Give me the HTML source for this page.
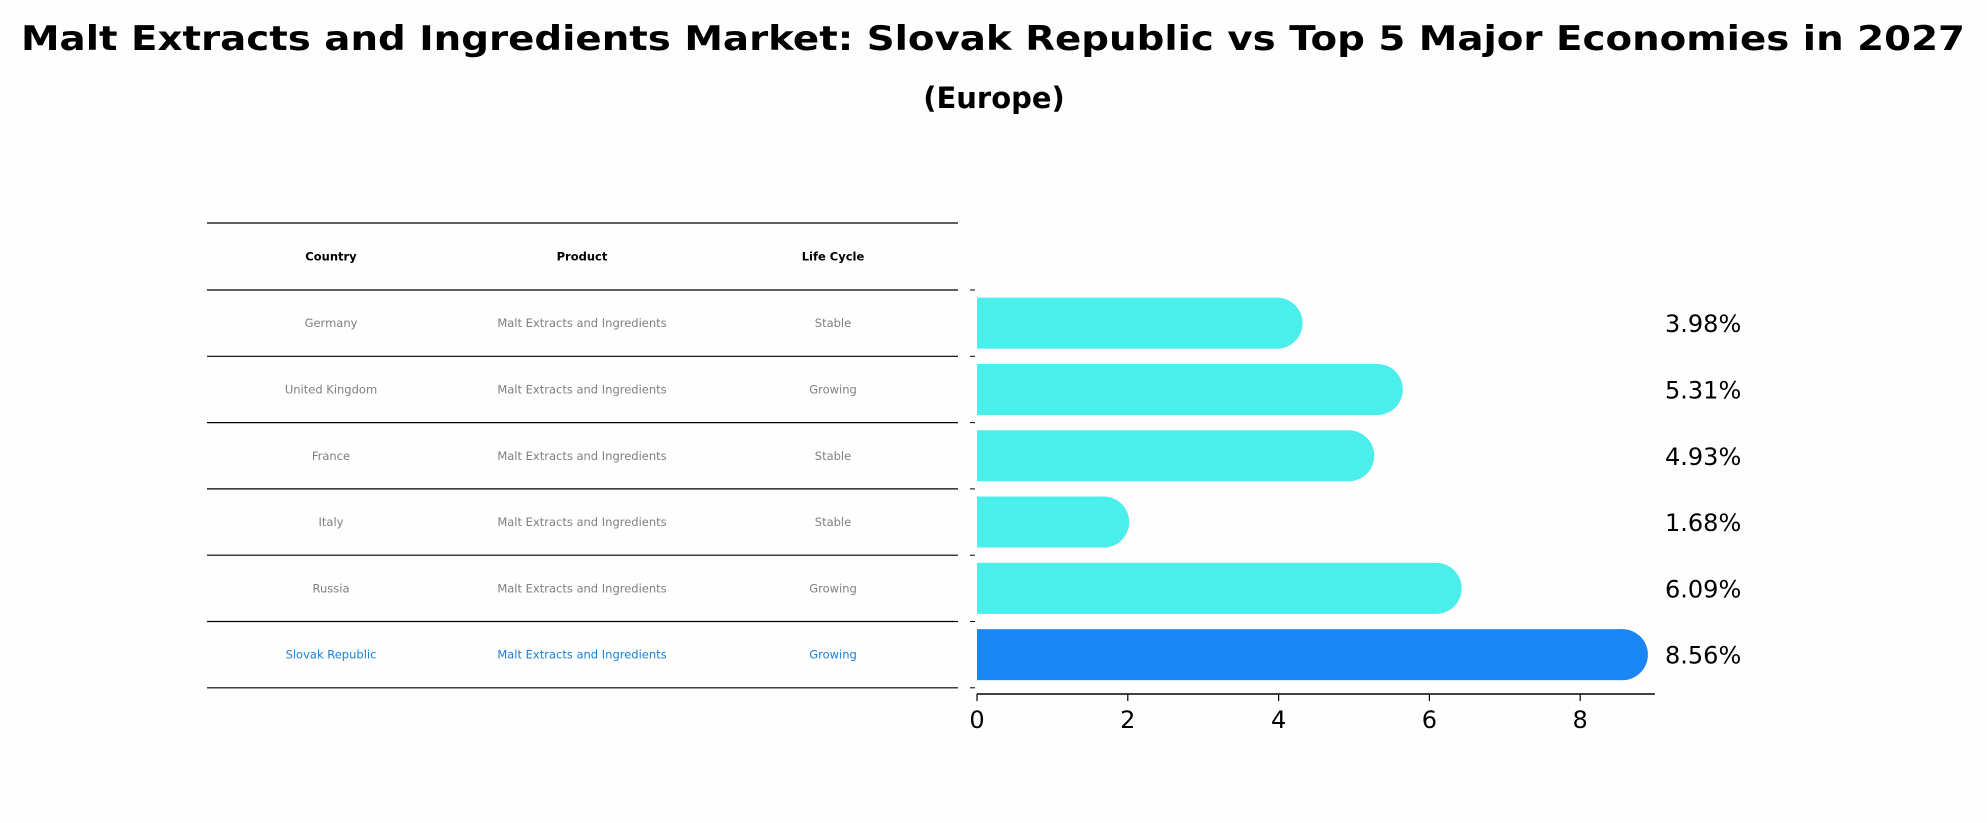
<!DOCTYPE html>
<html><head><meta charset="utf-8"><style>
html,body{margin:0;padding:0;background:#fff;}
svg{display:block;font-family:"DejaVu Sans","Liberation Sans",sans-serif;}
</style></head><body>
<svg id="chart" width="1987" height="823" viewBox="0 0 1987 823">
<rect width="1987" height="823" fill="#fefefe"/>
<text x="993" y="50" text-anchor="middle" font-weight="bold" font-size="34" textLength="1944" lengthAdjust="spacingAndGlyphs">Malt Extracts and Ingredients Market: Slovak Republic vs Top 5 Major Economies in 2027</text>
<text x="994" y="108" text-anchor="middle" font-weight="bold" font-size="29">(Europe)</text>
<g id="table"></g>
<g id="bars"></g>
</svg>
<script>
const countries = ["Germany","United Kingdom","France","Italy","Russia","Slovak Republic"];
const products = ["Malt Extracts and Ingredients","Malt Extracts and Ingredients","Malt Extracts and Ingredients","Malt Extracts and Ingredients","Malt Extracts and Ingredients","Malt Extracts and Ingredients"];
const lifeCycles = ["Stable","Growing","Stable","Stable","Growing","Growing"];
const values = [3.98, 5.31, 4.93, 1.68, 6.09, 8.56];
const valueLabels = ["3.98%","5.31%","4.93%","1.68%","6.09%","8.56%"];
const xTicks = [0, 2, 4, 6, 8];
const headers = ["Country","Product","Life Cycle"];

const NS = "http://www.w3.org/2000/svg";
function mk(tag, attrs, parent){const e=document.createElementNS(NS,tag);for(const k in attrs)e.setAttribute(k,attrs[k]);parent.appendChild(e);return e;}

// axis functions
const x0 = 977, unit = 75.4, xMax = 8.99;
const xScale = v => x0 + v * unit;
const rowTop = 290, rowH = 66.3;
const yCenter = i => rowTop + (i + 0.5) * rowH;

// table
const tbl = document.getElementById('table');
const colX = [331, 582, 833];
const tLeft = 207, tRight = 958;
const lineYs = [223];
for (let i = 0; i <= countries.length; i++) lineYs.push(rowTop + i * rowH);
lineYs.forEach((y, i) => {
  const l = mk('line', {x1:tLeft, x2:tRight, y1:y, y2:y, stroke:'#000', 'stroke-width':1.2}, tbl);
  
  
});
headers.forEach((h, j) => {
  const t = mk('text', {x:colX[j], y:(223 + rowTop)/2 + 4, 'text-anchor':'middle', 'font-size':11.5, 'font-weight':'bold'}, tbl);
  t.textContent = h;
  
  
});
countries.forEach((c, i) => {
  const hl = i === countries.length - 1;
  const fill = hl ? '#1a7fd6' : '#808080';
  [c, products[i], lifeCycles[i]].forEach((v, j) => {
    const t = mk('text', {x:colX[j], y:yCenter(i) + 4, 'text-anchor':'middle', 'font-size':11.5, fill:fill}, tbl);
    t.textContent = v;
    
    
  });
});

// bars
const g = document.getElementById('bars');
const barH = 51;
values.forEach((v, i) => {
  const hl = i === values.length - 1;
  const color = hl ? '#1a86f5' : '#4aeeea';
  const cy = yCenter(i);
  const grp = mk('g', {}, g);
  
  
  mk('rect', {x:x0, y:cy - barH/2, width:Math.max(0, xScale(v) - x0), height:barH, fill:color}, grp);
  mk('circle', {cx:xScale(v), cy:cy, r:barH/2, fill:color}, grp);
  const t = mk('text', {x:1665, y:cy + 9, 'font-size':24, fill:'#000'}, g);
  t.textContent = valueLabels[i];
  
  
});
// y ticks at category boundaries
for (let i = 0; i <= values.length; i++) {
  const tk = mk('line', {x1:x0 - 7, x2:x0 - 2, y1:rowTop + i*rowH - 33 + 33, y2:rowTop + i*rowH, stroke:'#000', 'stroke-width':1}, g);
  
  
}
// x axis
const axY = 694;
const ax = mk('line', {x1:x0, x2:xScale(xMax), y1:axY, y2:axY, stroke:'#000', 'stroke-width':1.5}, g);


xTicks.forEach(v => {
  const tk = mk('line', {x1:xScale(v), x2:xScale(v), y1:axY, y2:axY + 7, stroke:'#000', 'stroke-width':1.2}, g);
  
  
  const t = mk('text', {x:xScale(v), y:axY + 34, 'text-anchor':'middle', 'font-size':24}, g);
  t.textContent = String(v);
  
  
});
</script>
</body></html>
